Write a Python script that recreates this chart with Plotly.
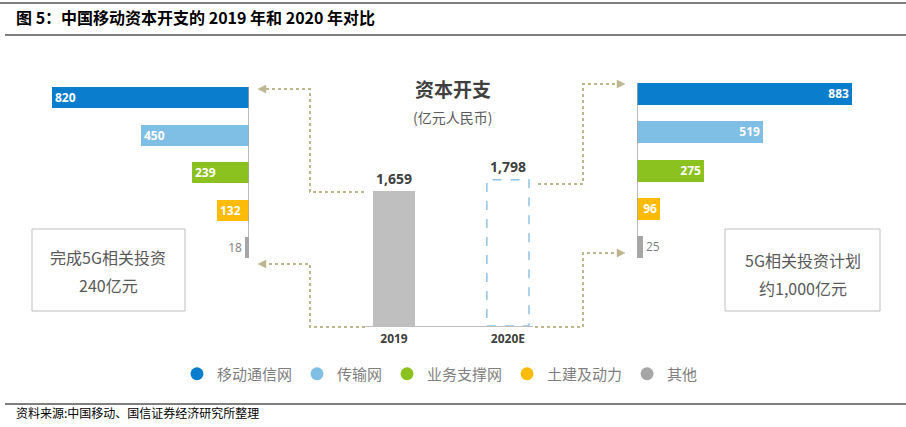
import plotly.graph_objects as go

W, H = 906, 427

# data
categories = ["移动通信网", "传输网", "业务支撑网", "土建及动力", "其他"]
capex_2019_parts = [820, 450, 239, 132, 18]
capex_2020_parts = [883, 519, 275, 96, 25]
years = ["2019", "2020E"]
capex_total = [1659, 1798]
colors = ["#0a7dcc", "#7fbee5", "#8cc21f", "#fbbb06", "#a6a6a6"]

CN = "Noto Sans CJK SC"
NUM = "Open Sans, Noto Sans CJK SC"
KHAKI = "#bdb78f"


def px(x):
    return x / W


def py(y):
    return 1 - y / H


def path(points, close=False):
    s = "M " + " L ".join(f"{px(x):.5f} {py(y):.5f}" for x, y in points)
    return s + (" Z" if close else "")


fig = go.Figure()

inside = ["inside"] * 4 + ["outside"]

# 2019 breakdown (left, bars grow to the left)
fig.add_trace(go.Bar(
    x=capex_2019_parts, y=categories, orientation="h",
    xaxis="x", yaxis="y", width=0.56,
    marker=dict(color=colors, line_width=0),
    text=capex_2019_parts, textposition=inside, insidetextanchor="end", textangle=0,
    insidetextfont=dict(family=NUM, size=12, color="white", weight="bold"),
    outsidetextfont=dict(family=NUM, size=12, color="#7f7f7f"),
    cliponaxis=False, showlegend=False, hoverinfo="skip",
))

# 2020 breakdown (right)
fig.add_trace(go.Bar(
    x=capex_2020_parts, y=categories, orientation="h",
    xaxis="x2", yaxis="y2", width=0.575,
    marker=dict(color=colors, line_width=0),
    text=capex_2020_parts, textposition=inside, insidetextanchor="end", textangle=0,
    insidetextfont=dict(family=NUM, size=12, color="white", weight="bold"),
    outsidetextfont=dict(family=NUM, size=12, color="#7f7f7f"),
    cliponaxis=False, showlegend=False, hoverinfo="skip",
))

# totals in the middle
fig.add_trace(go.Bar(
    x=years, y=capex_total, xaxis="x3", yaxis="y3", width=0.37,
    marker=dict(color=["#bfbfbf", "rgba(0,0,0,0)"], line_width=0),
    texttemplate="%{y:,}", textposition="outside", textangle=0,
    textfont=dict(family=NUM, size=14, color="#404040", weight="bold"),
    cliponaxis=False, showlegend=False, hoverinfo="skip",
))

# legend entries
for name, c in zip(categories, colors):
    fig.add_trace(go.Scatter(
        x=[None], y=[None], xaxis="x3", yaxis="y3", mode="markers",
        marker=dict(symbol="circle", size=13, color=c), name=name,
    ))

shapes = [
    # estimated 2020 total, dashed outline
    dict(type="rect", xref="x3", yref="y3", x0=1 - 0.185, x1=1 + 0.185,
         y0=0, y1=capex_total[1], line=dict(color="#8fc4e8", width=1.5, dash="dash")),
    # bar chart base lines
    dict(type="line", xref="x", yref="y", x0=0, x1=0, y0=-0.28, y1=4.28,
         line=dict(color="#a6a6a6", width=1.5)),
    dict(type="line", xref="x2", yref="y2", x0=0, x1=0, y0=-0.29, y1=4.29,
         line=dict(color="#a6a6a6", width=1.5)),
    # frame lines
    dict(type="line", xref="paper", yref="paper", x0=0, x1=1, y0=py(3), y1=py(3),
         line=dict(color="#000000", width=1)),
    dict(type="line", xref="paper", yref="paper", x0=px(5), x1=1, y0=py(35), y1=py(35),
         line=dict(color="#000000", width=1.2)),
    dict(type="line", xref="paper", yref="paper", x0=px(5), x1=1, y0=py(404), y1=py(404),
         line=dict(color="#000000", width=1.2)),
    # note boxes
    dict(type="rect", xref="paper", yref="paper", x0=px(32), x1=px(185), y0=py(311), y1=py(229),
         line=dict(color="#bfbfbf", width=1)),
    dict(type="rect", xref="paper", yref="paper", x0=px(725), x1=px(880), y0=py(311), y1=py(229),
         line=dict(color="#bfbfbf", width=1)),
]

# dotted connectors
connectors = [
    [(364, 192), (310, 192), (310, 89), (265, 89)],
    [(365, 327), (310, 327), (310, 264), (265, 264)],
    [(538, 184), (583, 184), (583, 84), (618, 84)],
    [(535, 327), (583, 327), (583, 253), (618, 253)],
]
for pts in connectors:
    shapes.append(dict(type="path", xref="paper", yref="paper", path=path(pts),
                       line=dict(color=KHAKI, width=2, dash="dot")))

heads = [
    [(258, 89), (266, 85), (266, 93)],
    [(258, 264), (266, 260), (266, 268)],
    [(625, 84), (617, 80), (617, 88)],
    [(625, 253), (617, 249), (617, 257)],
]
for pts in heads:
    shapes.append(dict(type="path", xref="paper", yref="paper", path=path(pts, True),
                       fillcolor=KHAKI, line=dict(color=KHAKI, width=0.5)))


def note(text, x, y, size, color, anchor="center", family=CN):
    return dict(text=text, x=px(x), y=py(y), xref="paper", yref="paper",
                xanchor=anchor, yanchor="middle", showarrow=False,
                font=dict(family=family, size=size, color=color))


annotations = [
    note("<b>图 5：中国移动资本开支的 2019 年和 2020 年对比</b>", 14, 17, 16, "#000000", "left"),
    note("<b>资本开支</b>", 453, 88, 19, "#404040"),
    note("(亿元人民币)", 452, 117, 14, "#595959"),
    note("完成5G相关投资", 108, 257, 16, "#595959"),
    note("240亿元", 108, 285, 16, "#595959"),
    note("5G相关投资计划", 803, 260, 16, "#595959"),
    note("约1,000亿元", 803, 288, 16, "#595959"),
    note("资料来源:中国移动、国信证券经济研究所整理", 14, 412, 12, "#000000", "left"),
]

hidden = dict(visible=False, showgrid=False, zeroline=False)

fig.update_layout(
    width=W, height=H,
    margin=dict(l=0, r=0, t=0, b=0),
    paper_bgcolor="white", plot_bgcolor="rgba(0,0,0,0)",
    font=dict(family=CN, color="#404040"),
    bargap=0,
    uniformtext=dict(minsize=12, mode="show"),
    xaxis=dict(domain=[px(9), px(249)], range=[1000, 0], anchor="y", **hidden),
    yaxis=dict(domain=[py(266.25), py(78.75)], type="category", range=[4.5, -0.5],
               anchor="x", **hidden),
    xaxis2=dict(domain=[px(637), px(877)], range=[0, 986], anchor="y2", **hidden),
    yaxis2=dict(domain=[py(266.1), py(74.9)], type="category", range=[4.5, -0.5],
                anchor="x2", **hidden),
    xaxis3=dict(domain=[px(363), px(533)], type="category", range=[-0.272, 1.22],
                anchor="y3", showline=True, linecolor="#bfbfbf", linewidth=1,
                showgrid=False, zeroline=False, ticks="", ticklabelstandoff=2,
                tickfont=dict(family=NUM, size=12, color="#404040", weight="bold")),
    yaxis3=dict(domain=[py(326), py(326 - 0.0814 * 2000)], range=[0, 2000],
                anchor="x3", **hidden),
    showlegend=True,
    legend=dict(orientation="h", x=px(177), y=py(374), xanchor="left", yanchor="middle",
                font=dict(family=CN, size=15, color="#7f7f7f"), bgcolor="rgba(0,0,0,0)"),
    shapes=shapes,
    annotations=annotations,
)

# the page body has a default margin; drop it so the figure fills the window
fig.write_html("out.html", config={"displayModeBar": False},
               post_script="document.body.style.margin='0';")
